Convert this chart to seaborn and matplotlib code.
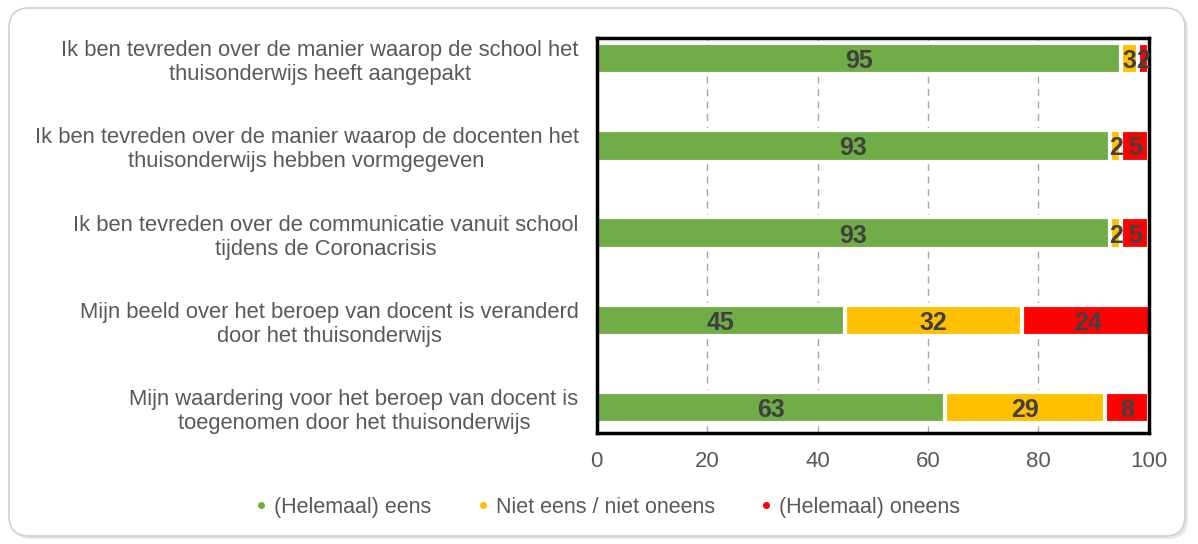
import pandas as pd
import seaborn as sns
import matplotlib.pyplot as plt
from matplotlib.lines import Line2D
from matplotlib.patches import FancyBboxPatch

# DATA
statements = [
    'Ik ben tevreden over de manier waarop de school het\nthuisonderwijs heeft aangepakt',
    'Ik ben tevreden over de manier waarop de docenten het\nthuisonderwijs hebben vormgegeven',
    'Ik ben tevreden over de communicatie vanuit school\ntijdens de Coronacrisis',
    'Mijn beeld over het beroep van docent is veranderd\ndoor het thuisonderwijs',
    'Mijn waardering voor het beroep van docent is\ntoegenomen door het thuisonderwijs',
]
eens = [95, 93, 93, 45, 63]
neutraal = [3, 2, 2, 32, 29]
oneens = [2, 5, 5, 24, 8]
series_names = ['(Helemaal) eens', 'Niet eens / niet oneens', '(Helemaal) oneens']
colors = ['#70AD47', '#FFC000', '#FF0000']
x_ticks = [0, 20, 40, 60, 80, 100]

df = pd.DataFrame({'Statement': statements, 'eens': eens,
                   'neutraal': neutraal, 'oneens': oneens})
df['c1'] = df['eens']
df['c2'] = df['c1'] + df['neutraal']
df['c3'] = df['c2'] + df['oneens']

plt.rcParams['font.family'] = ['Liberation Sans', 'DejaVu Sans']

# FIGURE
fig = plt.figure(figsize=(11.98, 5.44), dpi=100)
ax = fig.add_axes([0.498, 0.204, 0.461, 0.727])

# figure border
shadow = FancyBboxPatch((0.12, 0.05), 11.76, 5.28, boxstyle='round,pad=0,rounding_size=0.2',
                        transform=fig.dpi_scale_trans, facecolor='#E6E6E6', edgecolor='none',
                        zorder=-3)
border = FancyBboxPatch((0.09, 0.08), 11.76, 5.28, boxstyle='round,pad=0,rounding_size=0.2',
                        transform=fig.dpi_scale_trans, facecolor='white', edgecolor='#D0D0D0',
                        linewidth=1.2, zorder=-2)
fig.patches.extend([shadow, border])
ax.set_facecolor('none')

# STACKED BARS (draw cumulative totals, largest first)
for col, color in zip(['c3', 'c2', 'c1'], colors[::-1]):
    sns.barplot(data=df, x=col, y='Statement', orient='h', color=color,
                width=0.36, edgecolor='white', linewidth=3, saturation=1, ax=ax, zorder=2)

# BAR LABELS
for i, row in df.iterrows():
    lefts = [0, row['c1'], row['c2']]
    for left, val in zip(lefts, [row['eens'], row['neutraal'], row['oneens']]):
        ax.text(left + val / 2, i + 0.03, f'{val}', ha='center', va='center',
                fontsize=18, fontweight='bold', color='#404040', zorder=3)

# AXES
ax.set_xlim(0, 100)
ax.set_ylim(4.29, -0.24)
ax.set_xticks(x_ticks)
ax.set_xlabel('')
ax.set_ylabel('')
ax.tick_params(axis='x', length=0, labelsize=16, labelcolor='#595959', pad=13)
ax.tick_params(axis='y', length=0, labelsize=15.8, labelcolor='#595959', pad=13)
for lbl in ax.get_yticklabels():
    lbl.set_multialignment('center')
ax.grid(axis='x', linestyle=(0, (5, 4)), color='#A6A6A6', linewidth=1, zorder=0)
ax.set_axisbelow(True)
for spine in ax.spines.values():
    spine.set_color('black')
    spine.set_linewidth(2.5)

# LEGEND
handles = [Line2D([], [], marker='o', linestyle='none', markersize=4,
                  markerfacecolor=c, markeredgecolor=c) for c in colors]
fig.legend(handles, series_names, loc='center', bbox_to_anchor=(0.506, 0.068), ncol=3,
           frameon=False, fontsize=15.5, labelcolor='#595959', handlelength=0.8,
           handletextpad=0.2, columnspacing=2.0)

plt.savefig('out.png', dpi=100)
plt.close()
